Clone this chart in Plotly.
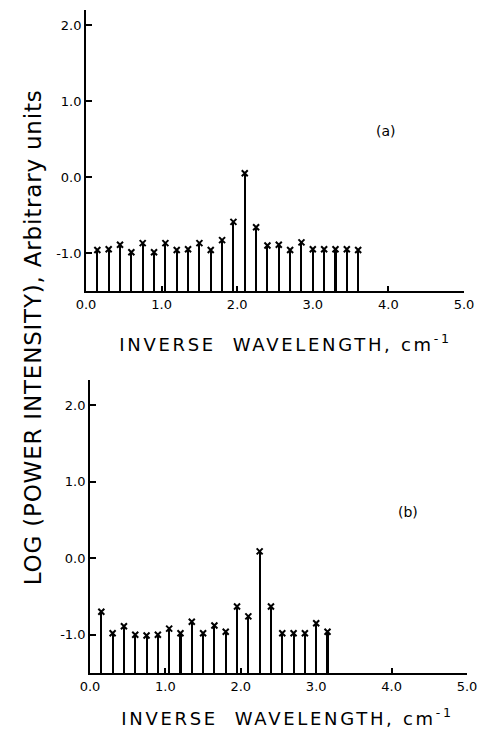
import plotly.graph_objects as go

# Panel (a)
freq_a = [0.15, 0.30, 0.45, 0.60, 0.75, 0.90, 1.05, 1.20, 1.35, 1.50, 1.65, 1.80,
          1.95, 2.10, 2.25, 2.40, 2.55, 2.70, 2.85, 3.00, 3.15, 3.30, 3.45, 3.60]
logp_a = [-0.96, -0.95, -0.89, -0.99, -0.87, -0.99, -0.87, -0.96, -0.95, -0.87, -0.96, -0.83,
          -0.59, 0.05, -0.66, -0.90, -0.89, -0.96, -0.86, -0.95, -0.95, -0.95, -0.95, -0.96]

# Panel (b)
freq_b = [0.15, 0.30, 0.45, 0.60, 0.75, 0.90, 1.05, 1.20, 1.35, 1.50, 1.65, 1.80,
          1.95, 2.10, 2.25, 2.40, 2.55, 2.70, 2.85, 3.00, 3.15]
logp_b = [-0.70, -0.98, -0.89, -1.00, -1.01, -1.00, -0.92, -0.98, -0.83, -0.98, -0.88, -0.96,
          -0.63, -0.76, 0.09, -0.63, -0.98, -0.98, -0.98, -0.85, -0.96]

x_ticks = [0, 1, 2, 3, 4, 5]
x_tick_text = ["0.0", "1.0", "2.0", "3.0", "4.0", "5.0"]
y_ticks = [-1, 0, 1, 2]
y_tick_text = ["-1.0", "0.0", "1.0", "2.0"]

BASE = -1.5
FONT = "DejaVu Sans"
W, H = 481, 735


def px(x):
    return x / W


def py(y):
    return 1 - y / H


fig = go.Figure()

for xs, ys, xa, ya in [(freq_a, logp_a, "x", "y"), (freq_b, logp_b, "x2", "y2")]:
    fig.add_trace(go.Bar(x=xs, y=[v - BASE for v in ys], base=BASE, width=0.027,
                         marker=dict(color="black", line=dict(width=0)),
                         xaxis=xa, yaxis=ya, showlegend=False))
    fig.add_trace(go.Scatter(x=xs, y=ys, mode="markers",
                             marker=dict(symbol="x-thin", size=6, color="black",
                                         line=dict(width=2, color="black")),
                             xaxis=xa, yaxis=ya, showlegend=False))


def xaxis(dom, anchor):
    return dict(domain=dom, anchor=anchor, range=[0, 5.0], tickvals=x_ticks, ticktext=x_tick_text,
                ticks="inside", ticklen=5, tickwidth=1.5, tickcolor="black",
                showline=True, linecolor="black", linewidth=1.8, showgrid=False, zeroline=False,
                automargin=False,
                tickfont=dict(family=FONT, size=13, color="black"))


def yaxis(dom, anchor, top):
    return dict(domain=dom, anchor=anchor, range=[BASE, top], tickvals=y_ticks, ticktext=y_tick_text,
                ticks="inside", ticklen=6, tickwidth=1.5, tickcolor="black",
                showline=True, linecolor="black", linewidth=1.8, showgrid=False, zeroline=False,
                automargin=False,
                tickfont=dict(family=FONT, size=13, color="black"))


fig.update_layout(
    width=W, height=H, paper_bgcolor="white", plot_bgcolor="white",
    margin=dict(l=0, r=0, t=0, b=0), bargap=0,
    xaxis=xaxis([px(86), px(464)], "y"),
    yaxis=yaxis([py(291), py(10)], "x", 2.2),
    xaxis2=xaxis([px(90), px(467)], "y2"),
    yaxis2=yaxis([py(673), py(380)], "x2", 2.33),
    font=dict(family=FONT, color="black"),
)

title_x = "INVERSE  WAVELENGTH, cm<sup>-1</sup>"
ann = [
    dict(text=title_x, x=px(285), y=py(343), size=18),
    dict(text=title_x, x=px(287), y=py(717), size=18),
    dict(text="(a)", x=px(386), y=py(131), size=14),
    dict(text="(b)", x=px(408), y=py(512), size=14),
]
for a in ann:
    fig.add_annotation(text=a["text"], x=a["x"], y=a["y"], xref="paper", yref="paper",
                       showarrow=False, xanchor="center", yanchor="middle",
                       font=dict(family=FONT, size=a["size"], color="black"))

fig.add_annotation(text="LOG (POWER INTENSITY), Arbitrary units", x=px(33), y=py(338),
                   xref="paper", yref="paper", showarrow=False, textangle=-90,
                   xanchor="center", yanchor="middle",
                   font=dict(family=FONT, size=23, color="black"))

post = """
document.body.style.margin = '0';
document.body.style.overflow = 'hidden';
var gd = document.getElementById('{plot_id}');
gd.querySelectorAll('.annotation-text').forEach(function (t) {
  if (t.textContent.indexOf('INVERSE') >= 0) { t.style.letterSpacing = '2.7px'; }
  if (t.textContent.indexOf('LOG') >= 0) { t.style.letterSpacing = '0.8px'; }
});
"""

fig.write_html("out.html", post_script=post, config={"displayModeBar": False})
